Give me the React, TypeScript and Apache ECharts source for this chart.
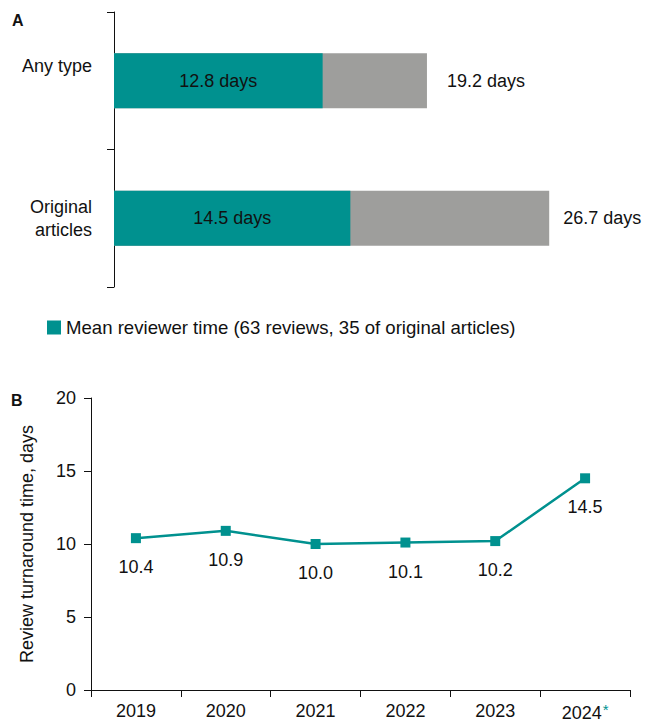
import React, { useEffect, useRef } from "react";
import * as echarts from "echarts";

// Panel A data
const articleTypes = ["Any type", "Original\narticles"];
const reviewerTime = [12.8, 14.5];
const totalTime = [19.2, 26.7];
const legendName = "Mean reviewer time (63 reviews, 35 of original articles)";

// Panel B data
const years = ["2019", "2020", "2021", "2022", "2023", "2024*"];
const turnaround = [10.4, 10.9, 10.0, 10.1, 10.2, 14.5];
const yTicks = { min: 0, max: 20, interval: 5 };

const TEAL = "#00918F";
const GRAY = "#9E9E9C";
const TEXT = "#111111";
const FONT = "'Liberation Sans', Arial, Helvetica, sans-serif";

const totalLabelGap = [20, 14];

export default function App() {
  const ref = useRef<HTMLDivElement>(null);
  useEffect(() => {
    document.body.style.margin = "0";
    if (!ref.current) return;
    const chart = echarts.init(ref.current, undefined, { renderer: "svg" });
    const option: any = {
      animation: false,
      textStyle: { fontFamily: FONT, color: TEXT },
      graphic: [
        { type: "text", left: 12, top: 12, style: { text: "A", font: `bold 16px ${FONT}`, fill: TEXT } },
        { type: "text", left: 11, top: 392, style: { text: "B", font: `bold 16px ${FONT}`, fill: TEXT } },
      ],
      legend: {
        data: [legendName],
        left: 47,
        top: 318,
        padding: 0,
        itemWidth: 14,
        itemHeight: 14,
        itemGap: 5,
        icon: "rect",
        textStyle: { fontSize: 18.6, color: TEXT, fontFamily: FONT },
      },
      grid: [
        { left: 114, top: 12, width: 489, height: 275 },
        { left: 91, top: 398, right: 18, height: 292 },
      ],
      xAxis: [
        { type: "value", gridIndex: 0, min: 0, max: 30, show: false },
        {
          type: "category",
          gridIndex: 1,
          data: years,
          boundaryGap: true,
          axisLine: { lineStyle: { color: TEXT, width: 1 } },
          axisTick: { show: true, length: 7, interval: 0, lineStyle: { color: TEXT } },
          axisLabel: {
            interval: 0,
            margin: 12,
            fontSize: 18,
            color: TEXT,
            fontFamily: FONT,
            formatter: (v: string) =>
              v.endsWith("*") ? `{y|${v.slice(0, -1)}}{s|*}` : `{y|${v}}`,
            rich: {
              y: { fontSize: 18, color: TEXT, fontFamily: FONT },
              s: { fontSize: 15, color: TEAL, fontFamily: FONT, verticalAlign: "top", padding: [0, 0, 6, 1] },
            },
          },
        },
      ],
      yAxis: [
        {
          type: "category",
          gridIndex: 0,
          inverse: true,
          data: articleTypes,
          axisLine: { lineStyle: { color: TEXT, width: 1 } },
          axisTick: { show: true, length: 7, lineStyle: { color: TEXT } },
          axisLabel: {
            margin: 22,
            fontSize: 18,
            lineHeight: 23,
            color: TEXT,
            fontFamily: FONT,
            align: "right",
            formatter: (v: string, i: number) => (i === 0 ? `{up|${v}}` : v),
            rich: {
              up: { fontSize: 18, color: TEXT, fontFamily: FONT, padding: [0, 0, 30, 0] },
            },
          },
        },
        {
          type: "value",
          gridIndex: 1,
          min: yTicks.min,
          max: yTicks.max,
          interval: yTicks.interval,
          name: "Review turnaround time, days",
          nameLocation: "middle",
          nameGap: 55,
          nameTextStyle: { fontSize: 18, color: TEXT, fontFamily: FONT },
          splitLine: { show: false },
          axisLine: { show: true, lineStyle: { color: TEXT, width: 1 } },
          axisTick: { show: true, length: 7, lineStyle: { color: TEXT } },
          axisLabel: { margin: 15, fontSize: 18, color: TEXT, fontFamily: FONT },
        },
      ],
      series: [
        {
          type: "bar",
          name: "Total time",
          xAxisIndex: 0,
          yAxisIndex: 0,
          barWidth: 55,
          barGap: "-100%",
          itemStyle: { color: GRAY },
          data: totalTime.map((v, i) => ({ value: v, label: { distance: totalLabelGap[i] } })),
          label: {
            show: true,
            position: "right",
            fontSize: 18,
            color: TEXT,
            fontFamily: FONT,
            formatter: (p: any) => `${p.value.toFixed(1)} days`,
          },
        },
        {
          type: "bar",
          name: legendName,
          xAxisIndex: 0,
          yAxisIndex: 0,
          barWidth: 55,
          barGap: "-100%",
          itemStyle: { color: TEAL },
          data: reviewerTime,
          label: {
            show: true,
            position: "inside",
            fontSize: 18,
            color: TEXT,
            fontFamily: FONT,
            formatter: (p: any) => `${p.value.toFixed(1)} days`,
          },
        },
        {
          type: "line",
          name: "Review turnaround",
          xAxisIndex: 1,
          yAxisIndex: 1,
          data: turnaround,
          symbol: "rect",
          symbolSize: 10,
          lineStyle: { color: TEAL, width: 2.5 },
          itemStyle: { color: TEAL },
          label: {
            show: true,
            position: "bottom",
            distance: 15,
            fontSize: 18,
            color: TEXT,
            fontFamily: FONT,
            formatter: (p: any) => p.value.toFixed(1),
          },
        },
      ],
    };
    chart.setOption(option);
    return () => chart.dispose();
  }, []);
  return <div ref={ref} style={{ width: 648, height: 723 }} />;
}
